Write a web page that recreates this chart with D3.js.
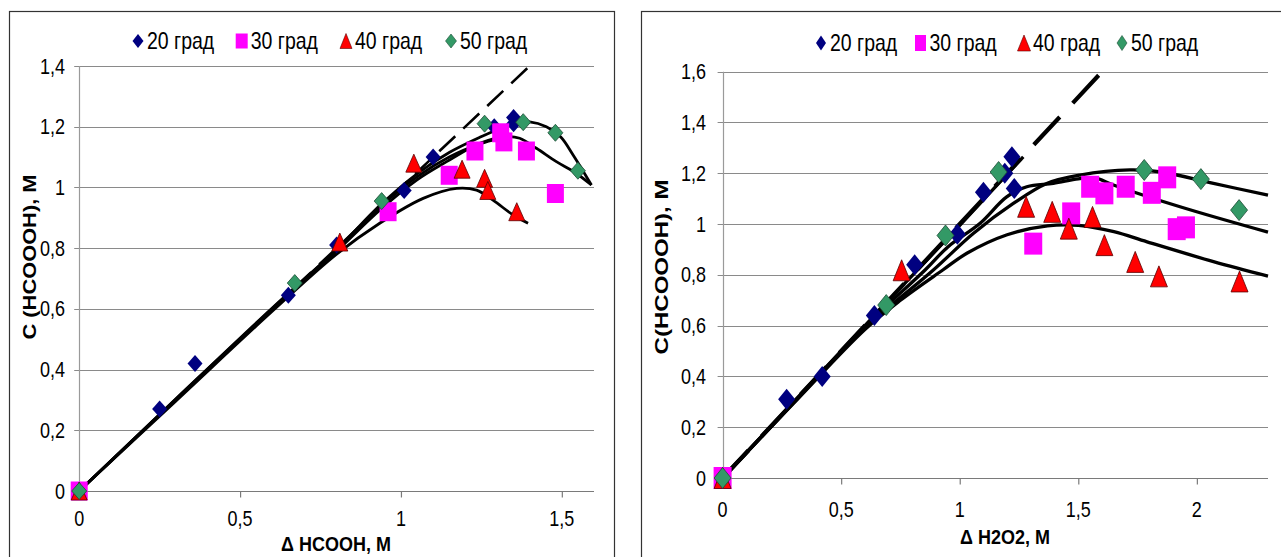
<!DOCTYPE html>
<html lang="ru">
<head>
<meta charset="UTF-8"/>
<title>HCOOOH vs HCOOH / H2O2</title>
<script src="https://d3js.org/d3.v7.min.js"></script>
<style>
  body { margin: 0; background: #fff; }
  svg { display: block; }
</style>
</head>
<body>
<script>
    // series names for the legend
    var seriesNames = ["20 град", "30 град", "40 град", "50 град"];

    // tick values
    var leftXTicks = [0, 0.5, 1, 1.5];
    var leftYTicks = [0, 0.2, 0.4, 0.6, 0.8, 1, 1.2, 1.4];
    var rightXTicks = [0, 0.5, 1, 1.5, 2];
    var rightYTicks = [0, 0.2, 0.4, 0.6, 0.8, 1, 1.2, 1.4, 1.6];

    // left chart: C(HCOOOH) vs delta HCOOH, measured points [x, y]
    var hcooh20 = [[0,0],[0.25,0.27],[0.36,0.42],[0.65,0.645],[0.80,0.81],[1.01,0.99],[1.10,1.10],[1.29,1.20],[1.35,1.21],[1.35,1.23]];
    var hcooh30 = [[0,0],[0.96,0.92],[1.15,1.04],[1.23,1.12],[1.31,1.18],[1.32,1.15],[1.39,1.12],[1.48,0.98]];
    var hcooh40 = [[0,0],[0.81,0.82],[1.04,1.08],[1.19,1.06],[1.26,1.03],[1.27,0.99],[1.36,0.92]];
    var hcooh50 = [[0,0],[0.67,0.685],[0.94,0.955],[1.26,1.21],[1.38,1.215],[1.48,1.18],[1.55,1.055]];

    // left chart: model curves
    var hcoohFit20 = [[0,0],[0.3,0.303],[0.6,0.603],[0.8,0.795],[0.934,0.935],[1.05,1.035],[1.15,1.1],[1.25,1.145],[1.30,1.16]];
    var hcoohFit30 = [[0,0],[0.3,0.3],[0.6,0.598],[0.8,0.79],[0.934,0.925],[1.05,1.025],[1.142,1.085],[1.245,1.145],[1.328,1.167],[1.369,1.162],[1.421,1.129],[1.483,1.085],[1.54,1.05],[1.592,1.008]];
    var hcoohFit40 = [[0,0],[0.3,0.296],[0.6,0.592],[0.8,0.78],[0.934,0.882],[1.069,0.964],[1.173,0.997],[1.235,0.991],[1.286,0.958],[1.349,0.909],[1.395,0.882]];
    var hcoohFit50 = [[0,0],[0.3,0.302],[0.6,0.601],[0.8,0.795],[0.934,0.94],[1.05,1.045],[1.15,1.115],[1.245,1.165],[1.30,1.19],[1.349,1.211],[1.40,1.216],[1.452,1.20],[1.496,1.167],[1.535,1.107],[1.592,1.008]];
    var hcoohDiag = [[0,0],[1.4,1.4]];

    // right chart: C(HCOOOH) vs delta H2O2, measured points [x, y]
    var h2o2_20 = [[0,0],[0.27,0.31],[0.42,0.40],[0.64,0.64],[0.81,0.84],[0.99,0.96],[1.10,1.125],[1.19,1.20],[1.22,1.265],[1.23,1.14]];
    var h2o2_30 = [[0,0],[1.31,0.923],[1.47,1.042],[1.55,1.147],[1.61,1.121],[1.70,1.147],[1.81,1.123],[1.875,1.184],[1.915,0.98],[1.954,0.987]];
    var h2o2_40 = [[0,0],[0.755,0.818],[1.28,1.068],[1.39,1.048],[1.46,0.982],[1.56,1.028],[1.61,0.917],[1.74,0.851],[1.84,0.794],[2.18,0.774]];
    var h2o2_50 = [[0,0],[0.69,0.681],[0.94,0.955],[1.164,1.205],[1.778,1.213],[2.017,1.177],[2.178,1.055]];

    // right chart: model curves
    var h2o2Fit20 = [[0,0],[0.6,0.6],[1.0,0.995],[1.268,1.265]];
    var h2o2Fit30 = [[0,0],[0.3,0.298],[0.6,0.596],[0.855,0.82],[0.95,0.91],[1.086,1.003],[1.198,1.107],[1.283,1.147],[1.395,1.16],[1.5,1.178],[1.57,1.182],[1.648,1.154],[1.929,1.068],[2.3,0.968]];
    var h2o2Fit40 = [[0,0],[0.3,0.295],[0.6,0.585],[0.75,0.70],[0.93,0.82],[1.03,0.885],[1.2,0.958],[1.37,0.993],[1.5,0.995],[1.65,0.97],[1.79,0.93],[2.07,0.852],[2.3,0.795]];
    var h2o2Fit50 = [[0,0],[0.3,0.297],[0.6,0.59],[0.89,0.82],[1.057,0.963],[1.226,1.081],[1.367,1.16],[1.507,1.193],[1.718,1.213],[1.85,1.205],[2.07,1.16],[2.3,1.114]];
    var h2o2Diag = [[0,0],[1.6,1.6]];

    // marker styles per series
    var markerTypes = ["diamond", "square", "triangle", "diamond"];
    var markerFill = ["#000080", "#ff00ff", "#ff0000", "#339966"];
    var markerStroke = ["none", "none", "#5a0000", "#1d4d36"];

    var svg = d3.select("body").append("svg")
        .attr("width", 1281)
        .attr("height", 557);

    svg.append("rect").attr("width", 1281).attr("height", 557).attr("fill", "#fff");

    var fmt = function(v) { return String(v).replace(".", ","); };

    function markerPath(type, w, h) {
        if (type == "diamond")
            return "M0," + (-h/2) + "L" + (w/2) + ",0L0," + (h/2) + "L" + (-w/2) + ",0Z";
        if (type == "triangle")
            return "M0," + (-h/2) + "L" + (w/2) + "," + (h/2) + "L" + (-w/2) + "," + (h/2) + "Z";
        return "M" + (-w/2) + "," + (-h/2) + "h" + w + "v" + h + "h" + (-w) + "Z";
    }

    // stretched text, like the source picture
    function label(g, x, y, txt, opts) {
        var t = g.append("g")
            .attr("transform", "translate(" + x + "," + y + ") scale(1," + (opts.sy || 1.15) + ")")
            .append("text")
            .attr("font-family", opts.family || "'Liberation Sans', Arial, sans-serif")
            .attr("font-size", opts.size)
            .attr("font-weight", opts.weight || "normal")
            .attr("text-anchor", opts.anchor || "middle")
            .attr("fill", "#000")
            .text(txt);
        return t;
    }

    function drawPanel(p) {
        var g = svg.append("g");

        // chart frame
        g.append("rect")
            .attr("x", p.frame[0]).attr("y", p.frame[1])
            .attr("width", p.frame[2]).attr("height", p.frame[3])
            .attr("fill", "none").attr("stroke", "#333").attr("stroke-width", 1.2);

        var x = d3.scaleLinear().domain(p.xDomain).range(p.xRange);
        var y = d3.scaleLinear().domain(p.yDomain).range(p.yRange);

        // horizontal gridlines
        g.selectAll(".grid").data(p.yTicks.slice(1)).enter().append("line")
            .attr("x1", x(0) - 5).attr("x2", p.xRange[1])
            .attr("y1", function(d) { return Math.round(y(d)) + 0.5; })
            .attr("y2", function(d) { return Math.round(y(d)) + 0.5; })
            .attr("stroke", "#8a8a8a").attr("stroke-width", 1.2);

        // y axis
        g.append("line")
            .attr("x1", Math.round(x(0)) + 0.5).attr("x2", Math.round(x(0)) + 0.5)
            .attr("y1", p.yRange[1]).attr("y2", y(0) + 5)
            .attr("stroke", "#9a9a9a").attr("stroke-width", 1.2);

        // x axis with ticks
        var xAxis = d3.axisBottom(x).tickValues(p.xTicks).tickSize(6).tickFormat("");
        var ax = g.append("g")
            .attr("transform", "translate(0," + (Math.round(y(0)) + 0.5) + ")")
            .call(xAxis);
        ax.select(".domain").attr("stroke", "#7a7a7a").attr("stroke-width", 1.2)
            .attr("d", "M" + (x(0) - 5) + ",0H" + p.xRange[1]);
        ax.selectAll(".tick line").attr("stroke", "#7a7a7a").attr("stroke-width", 1.2);

        // tick labels
        p.xTicks.forEach(function(v) {
            label(g, x(v), p.xLabelY, fmt(v), { size: 18, sy: 1.2 });
        });
        p.yTicks.forEach(function(v) {
            label(g, p.yLabelX, y(v) + 7.5, fmt(v), { size: 18, anchor: "end", sy: 1.2 });
        });

        // axis titles
        label(g, p.xTitle[0], p.xTitle[1], p.xTitle[2], { size: 18, weight: "bold", sy: 1.15 });
        g.append("text")
            .attr("transform", "translate(" + p.yTitle[0] + "," + p.yTitle[1] + ") rotate(-90)")
            .attr("font-family", "'Liberation Sans', Arial, sans-serif")
            .attr("font-size", 18)
            .attr("font-weight", "bold")
            .attr("text-anchor", "middle")
            .attr("textLength", p.yTitle[3])
            .attr("lengthAdjust", "spacingAndGlyphs")
            .text(p.yTitle[2]);

        var line = d3.line()
            .x(function(d) { return x(d[0]); })
            .y(function(d) { return y(d[1]); })
            .curve(d3.curveCatmullRom.alpha(0.5));

        // dashed y = x line
        g.append("path")
            .attr("d", line(p.diag))
            .attr("fill", "none").attr("stroke", "#000")
            .attr("stroke-width", p.dashWidth)
            .attr("stroke-dasharray", p.dash);

        // model curves
        g.selectAll(".fit").data(p.fits).enter().append("path")
            .attr("d", line)
            .attr("fill", "none").attr("stroke", "#000")
            .attr("stroke-width", p.fitWidth)
            .attr("stroke-linejoin", "round");

        // measured points
        p.points.forEach(function(series, i) {
            var sz = p.marker[markerTypes[i]];
            g.selectAll(".pt" + i).data(series).enter().append("path")
                .attr("transform", function(d) { return "translate(" + x(d[0]) + "," + y(d[1]) + ")"; })
                .attr("d", markerPath(markerTypes[i], sz[0], sz[1]))
                .attr("fill", markerFill[i])
                .attr("stroke", markerStroke[i])
                .attr("stroke-width", 0.8);
        });

        // legend
        seriesNames.forEach(function(name, i) {
            var lx = p.legendX[i];
            var lsz = p.legendMarker[markerTypes[i]];
            g.append("path")
                .attr("transform", "translate(" + lx + "," + p.legendY + ")")
                .attr("d", markerPath(markerTypes[i], lsz[0], lsz[1]))
                .attr("fill", markerFill[i])
                .attr("stroke", markerStroke[i])
                .attr("stroke-width", 0.6);
            label(g, lx + 9, p.legendY + 8, name, { size: 19.5, anchor: "start", sy: 1.2 });
        });
    }

    // left panel
    drawPanel({
        frame: [9.5, 11.5, 605, 600],
        xDomain: [0, 1.6], xRange: [79.2, 594],
        yDomain: [0, 1.4], yRange: [491, 66],
        xTicks: leftXTicks, yTicks: leftYTicks,
        xLabelY: 526, yLabelX: 65,
        xTitle: [336, 551, "Δ HCOOH, M"],
        yTitle: [36, 257, "С (HCOOOH), М", 165],
        diag: hcoohDiag, dash: "22,11", dashWidth: 2.6,
        fits: [hcoohFit20, hcoohFit30, hcoohFit40, hcoohFit50], fitWidth: 2.8,
        points: [hcooh20, hcooh30, hcooh40, hcooh50],
        marker: { diamond: [15, 17], square: [17, 19], triangle: [16, 18] },
        legendX: [138, 241.7, 346, 451], legendY: 41,
        legendMarker: { diamond: [11, 14], square: [12, 15], triangle: [12, 15] }
    });

    // right panel
    drawPanel({
        frame: [641.5, 11.5, 700, 600],
        xDomain: [0, 2.3], xRange: [722.6, 1268],
        yDomain: [0, 1.6], yRange: [478, 71.7],
        xTicks: rightXTicks, yTicks: rightYTicks,
        xLabelY: 517, yLabelX: 706,
        xTitle: [1005, 544, "Δ H2O2, M"],
        yTitle: [668, 267, "C(HCOOOH),  M", 175],
        diag: h2o2Diag, dash: "38,19", dashWidth: 4.2,
        fits: [h2o2Fit20, h2o2Fit30, h2o2Fit40, h2o2Fit50], fitWidth: 3.3,
        points: [h2o2_20, h2o2_30, h2o2_40, h2o2_50],
        marker: { diamond: [17, 21], square: [18, 22], triangle: [17, 21] },
        legendX: [821, 920.5, 1024, 1122], legendY: 43,
        legendMarker: { diamond: [10, 15], square: [11, 16], triangle: [13, 16] }
    });
</script>
</body>
</html>
